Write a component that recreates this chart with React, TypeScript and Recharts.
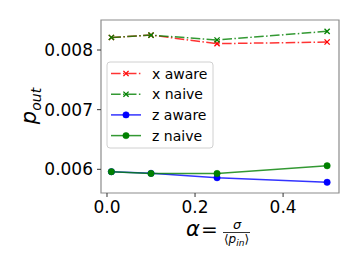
import React from "react";
import { LineChart, Line, XAxis, YAxis, ReferenceArea, Label } from "recharts";

const alphaValues = [0.01, 0.1, 0.25, 0.5];
const xAware = [0.00821, 0.00825, 0.008106, 0.008134];
const xNaive = [0.00821, 0.00825, 0.008168, 0.008313];
const zAware = [0.00596, 0.005932, 0.005859, 0.005782];
const zNaive = [0.00596, 0.00593, 0.00593, 0.00606];
const xTicks = [0, 0.2, 0.4];
const yTicks = [0.006, 0.007, 0.008];
const seriesNames = ["x aware", "x naive", "z aware", "z naive"];

const data = alphaValues.map((a, i) => ({
  alpha: a,
  xAware: xAware[i],
  xNaive: xNaive[i],
  zAware: zAware[i],
  zNaive: zNaive[i],
}));

const X_DOMAIN: [number, number] = [-0.0136, 0.527];
const Y_DOMAIN: [number, number] = [0.005603, 0.008503];
const FONT = "DejaVu Sans, sans-serif";
const DASHDOT = "9.6 2.4 1.5 2.4";

const seriesStyle = [
  { key: "xAware", color: "#ff0000", dash: DASHDOT, marker: "x" },
  { key: "xNaive", color: "#008000", dash: DASHDOT, marker: "x" },
  { key: "zAware", color: "#0000ff", dash: undefined, marker: "o" },
  { key: "zNaive", color: "#008000", dash: undefined, marker: "o" },
];

const XMarker = (props: any) => {
  const { cx, cy, stroke } = props;
  if (cx == null || cy == null) return null;
  const s = 2.6;
  return (
    <g>
      <line x1={cx - s} y1={cy - s} x2={cx + s} y2={cy + s} stroke={stroke} strokeWidth={1.3} />
      <line x1={cx - s} y1={cy + s} x2={cx + s} y2={cy - s} stroke={stroke} strokeWidth={1.3} />
    </g>
  );
};

const OMarker = (props: any) => {
  const { cx, cy, fill } = props;
  if (cx == null || cy == null) return null;
  return <circle cx={cx} cy={cy} r={3.2} fill={fill} stroke={fill} strokeWidth={0.5} />;
};

const LegendBox = () => {
  const rowY = [73.5, 94.2, 114.9, 135.6];
  return (
    <svg width={359} height={269} style={{ position: "absolute", left: 0, top: 0, pointerEvents: "none" }}>
      <rect x={107} y={62} width={106} height={86} rx={3} ry={3} fill="rgba(255,255,255,0.8)" stroke="#d0d0d0" strokeWidth={1} />
      {seriesStyle.map((s, i) => (
        <g key={s.key}>
          <line x1={111} x2={141} y1={rowY[i]} y2={rowY[i]} stroke={s.color} strokeOpacity={0.8} strokeWidth={1.5} strokeDasharray={s.dash} />
          {s.marker === "x" ? (
            <XMarker cx={126} cy={rowY[i]} stroke={s.color} />
          ) : (
            <OMarker cx={126} cy={rowY[i]} fill={s.color} />
          )}
          <text x={152} y={rowY[i]} dy="0.36em" fontSize={14} fontFamily={FONT} fill="#000">
            {seriesNames[i]}
          </text>
        </g>
      ))}
    </svg>
  );
};

const YLabel = () => (
  <text transform="translate(36,106) rotate(-90)" textAnchor="middle" fontFamily={FONT} fill="#000">
    <tspan fontSize={21} fontStyle="italic">p</tspan>
    <tspan fontSize={14} fontStyle="italic" dy={5}>out</tspan>
  </text>
);

const XLabel = () => (
  <g fontFamily={FONT} fill="#000">
    <text x={193} y={236} textAnchor="middle" fontSize={21} fontStyle="italic">α</text>
    <text x={209.5} y={236} textAnchor="middle" fontSize={20}>=</text>
    <text x={237} y={228.5} textAnchor="middle" fontSize={13} fontStyle="italic">σ</text>
    <line x1={223} x2={250} y1={232.5} y2={232.5} stroke="#000" strokeWidth={0.8} />
    <text x={236.5} y={243} textAnchor="middle" fontSize={12}>
      ⟨<tspan fontStyle="italic">p</tspan>
      <tspan fontSize={9} fontStyle="italic" dy={2.5}>in</tspan>
      <tspan dy={-2.5}>⟩</tspan>
    </text>
  </g>
);

export default function App() {
  return (
    <div style={{ position: "absolute", left: 0, top: 0, width: 359, height: 269, background: "#fff" }}>
      <LineChart
        width={359}
        height={269}
        data={data}
        margin={{ top: 20, right: 20, left: 0, bottom: 0 }}
      >
        <XAxis
          dataKey="alpha"
          type="number"
          domain={X_DOMAIN}
          ticks={xTicks}
          allowDataOverflow
          tickFormatter={(v: number) => v.toFixed(1)}
          height={76}
          tickSize={4}
          tickMargin={4}
          axisLine={false}
          tickLine={{ stroke: "#333", strokeWidth: 1 }}
          tick={{ fill: "#000", fontSize: 17, fontFamily: FONT }}
          interval={0}
        >
          <Label content={() => <XLabel />} />
        </XAxis>
        <YAxis
          type="number"
          domain={Y_DOMAIN}
          ticks={yTicks}
          allowDataOverflow
          tickFormatter={(v: number) => v.toFixed(3)}
          width={101}
          tickSize={4}
          tickMargin={4}
          axisLine={false}
          tickLine={{ stroke: "#333", strokeWidth: 1 }}
          tick={{ fill: "#000", fontSize: 17, fontFamily: FONT }}
          interval={0}
        >
          <Label content={() => <YLabel />} />
        </YAxis>
        <ReferenceArea
          x1={X_DOMAIN[0]}
          x2={X_DOMAIN[1]}
          y1={Y_DOMAIN[0]}
          y2={Y_DOMAIN[1]}
          fill="none"
          stroke="#8c8c8c"
          strokeWidth={1.2}
          ifOverflow="visible"
        />
        {seriesStyle.map((s) => (
          <Line
            key={s.key}
            dataKey={s.key}
            type="linear"
            stroke={s.color}
            strokeOpacity={0.8}
            strokeWidth={1.5}
            strokeDasharray={s.dash}
            isAnimationActive={false}
            dot={s.marker === "x" ? <XMarker stroke={s.color} /> : <OMarker fill={s.color} />}
            activeDot={false}
          />
        ))}
      </LineChart>
      <LegendBox />
    </div>
  );
}
